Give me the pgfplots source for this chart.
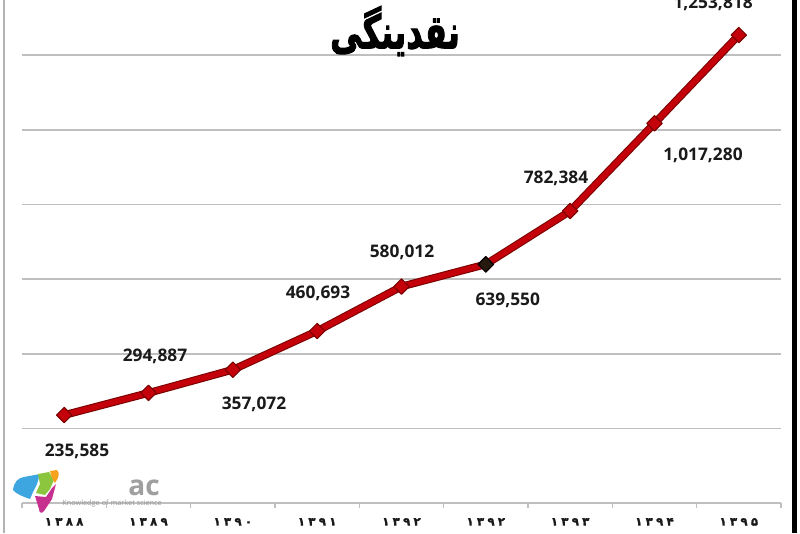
\documentclass[border=0pt]{standalone}
\usepackage{fontspec}
\usepackage{pgfplots}
\pgfplotsset{compat=1.18}
\setmainfont{Open Sans}
\newfontfamily\arabicfont[Script=Arabic]{DejaVu Sans}
\newfontfamily\digitfont[Script=Arabic, LetterSpace=28, FakeBold=1.2]{DejaVu Sans Bold}
\newfontfamily\titlefont[Script=Arabic, FakeBold=2.5]{DejaVu Sans Bold}
\TeXXeTstate=1
\definecolor{linered}{HTML}{C4000A}
\definecolor{lineedge}{HTML}{7A0000}
\definecolor{gridgray}{HTML}{BFBFBF}
\definecolor{labelblack}{HTML}{1A1A1A}
\definecolor{lgblue}{HTML}{3DA5E0}
\definecolor{lggreen}{HTML}{8CC63F}
\definecolor{lgorange}{HTML}{F7A21D}
\definecolor{lgmag}{HTML}{C6308E}
\begin{document}
\begin{tikzpicture}
\useasboundingbox (0,0) rectangle (600pt,399.75pt);
\fill[white] (0,0) rectangle (600pt,399.75pt);
\begin{axis}[
  at={(16.5pt,22.5pt)}, anchor=south west,
  scale only axis, width=569.25pt, height=377.25pt,
  xmin=-0.5, xmax=8.5, ymin=0, ymax=1347800,
  axis x line*=bottom, axis y line*=left,
  y axis line style={draw=none},
  x axis line style={gridgray, line width=1.2pt},
  ytick={200000,400000,600000,800000,1000000,1200000},
  yticklabels={},
  scaled y ticks=false,
  ytick style={draw=none},
  ymajorgrids,
  grid style={gridgray, line width=1.2pt},
  xtick={0,1,2,3,4,5,6,7,8},
  xticklabels={۱۳۸۸,۱۳۸۹,۱۳۹۰,۱۳۹۱,۱۳۹۲,۱۳۹۲,۱۳۹۳,۱۳۹۴,۱۳۹۵},
  minor xtick={-0.5,0.5,1.5,2.5,3.5,4.5,5.5,6.5,7.5,8.5},
  major x tick style={draw=none},
  minor x tick style={gridgray, line width=1pt},
  major tick length=0pt,
  minor tick length=4pt,
  tick align=outside,
  xticklabel style={font=\digitfont\fontsize{8.8}{8.8}\selectfont, text=labelblack, anchor=base, yshift=-17pt},
  clip=false,
]
\addplot[lineedge, line width=5.8pt, line join=round, no marks] coordinates {
  (0,235585) (1,294887) (2,357072) (3,460693) (4,580012) (5,639550) (6,782384) (7,1017280) (8,1253818)};
\addplot[linered, line width=4.2pt, line join=round, mark=square*, mark size=4.1pt,
  mark options={rotate=45, fill=linered, draw=lineedge, line width=0.8pt, solid}] coordinates {
  (0,235585) (1,294887) (2,357072) (3,460693) (4,580012) (5,639550) (6,782384) (7,1017280) (8,1253818)};
\addplot[only marks, mark=square*, mark size=4.1pt,
  mark options={rotate=45, fill=black!80!brown, draw=black, line width=0.8pt}] coordinates {(5,639550)};
\tikzset{dl/.style={font=\bfseries\fontsize{13}{13}\selectfont, text=labelblack, inner sep=0pt}}
\node[dl] at (axis cs:0.152,139300) {235,585};
\node[dl] at (axis cs:1.077,393900) {294,887};
\node[dl] at (axis cs:2.251,265300) {357,072};
\node[dl] at (axis cs:3.010,562700) {460,693};
\node[dl] at (axis cs:4.006,672600) {580,012};
\node[dl] at (axis cs:5.260,543900) {639,550};
\node[dl] at (axis cs:5.832,870800) {782,384};
\node[dl] at (axis cs:7.575,932500) {1,017,280};
\node[dl] at (axis cs:7.694,1339800) {1,253,818};
\end{axis}
\node[transform shape, yscale=1.45] at (296.25pt,376.5pt) {\titlefont\fontsize{24}{24}\selectfont\beginR نقدینگی\endR};
\begin{scope}[x=0.75pt, y=-0.75pt, shift={(0,399.75pt)}]
  \draw[gray!60, line width=1.2pt] (4,0) -- (4,533);
  \fill[black] (792,0) rectangle (797,533);
  % logo
  \fill[lgblue] (13,490) .. controls (14,482) and (18,478) .. (24,477) -- (40,474) -- (37,484) -- (33,492) -- (30,499) .. controls (24,497) and (16,494) .. cycle;
  \fill[lggreen] (38,474) -- (49,472) -- (54,480) -- (50,489) -- (45,495) -- (36,493) -- (40,484) -- cycle;
  \fill[lgorange] (50,471) -- (57,470) .. controls (59,471) and (59,474) .. (58,478) -- (55,483) -- (52,478) -- cycle;
  \fill[lgmag] (35,496) -- (46,497) -- (52,488) -- (56,484) -- (52,499) -- (44,511) .. controls (42,514) and (39,513) .. (39,509) -- cycle;
  \node[font=\bfseries\fontsize{21}{21}\selectfont, text=gray!75, inner sep=0pt] at (144,488) {ac};
  \node[font=\fontsize{5.5}{5.5}\selectfont, text=gray!80, inner sep=0pt, anchor=west] at (62,504) {Knowledge of market science};
\end{scope}
\end{tikzpicture}
\end{document}
